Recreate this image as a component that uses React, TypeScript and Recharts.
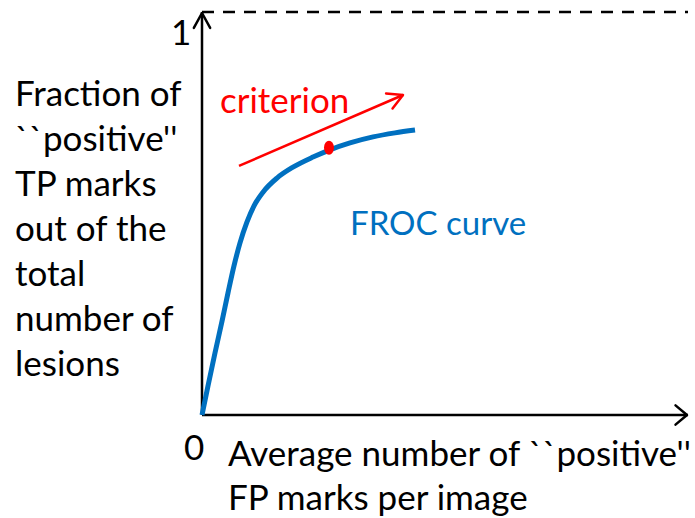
import React from 'react';
import {
  LineChart,
  Line,
  XAxis,
  YAxis,
  ReferenceLine,
  ReferenceDot,
} from 'recharts';

// FROC curve (x: FP marks per image, arbitrary units; y: fraction)
const curveX = [0, 0.123, 0.267, 0.412, 0.535, 0.658, 0.782, 0.926, 1.07, 1.255, 1.543, 1.872, 2.284, 2.634, 3.045, 3.519, 3.971, 4.383];
const curveY = [0, 0.072, 0.154, 0.233, 0.303, 0.37, 0.427, 0.479, 0.519, 0.553, 0.588, 0.615, 0.64, 0.658, 0.675, 0.69, 0.7, 0.707];

// operating point on the curve
const pointX = 2.613;
const pointY = 0.663;

// red "criterion" arrow, tail then head
const arrowX = [0.761, 4.136];
const arrowY = [0.618, 0.794];

const yTitle = ['Fraction of', "``positive''", 'TP marks', 'out of the', 'total', 'number of', 'lesions'];
const xTitle = ["Average number of ``positive''", 'FP marks per image'];

const curveData = curveX.map((x, i) => ({ x, y: curveY[i] }));
const arrowData = arrowX.map((x, i) => ({ x, y: arrowY[i] }));

const BLUE = '#0070C0';
const RED = '#FF0000';
const FONT = 'Lato, "Open Sans", sans-serif';

// chevron drawn at (cx, cy) pointing along angle (radians, svg coords)
const chevron = (cx: number, cy: number, angle: number, len: number, spread: number, color: string, width: number) => {
  const a1 = angle + Math.PI - spread;
  const a2 = angle + Math.PI + spread;
  const d = `M${cx + len * Math.cos(a1)},${cy + len * Math.sin(a1)} L${cx},${cy} L${cx + len * Math.cos(a2)},${cy + len * Math.sin(a2)}`;
  return <path d={d} fill="none" stroke={color} strokeWidth={width} strokeLinecap="round" strokeLinejoin="round" />;
};

const ArrowDot = (props: any) => {
  const { cx, cy, index, points } = props;
  if (index !== 1) return <g key={`d${index}`} />;
  let angle = Math.atan2(-71, 164);
  if (points && points.length > 1) {
    angle = Math.atan2(points[1].y - points[0].y, points[1].x - points[0].x);
  }
  return <g key={`d${index}`}>{chevron(cx, cy, angle, 17, 0.5, RED, 2.5)}</g>;
};

const textStyle: React.CSSProperties = {
  position: 'absolute',
  fontFamily: FONT,
  fontSize: 35,
  lineHeight: '45px',
  color: '#000',
  whiteSpace: 'nowrap',
};

export default function App() {
  return (
    <div style={{ position: 'absolute', left: 0, top: 0, width: 695, height: 518, background: '#fff' }}>
      <LineChart
        width={695}
        height={518}
        margin={{ top: 12, right: 7, bottom: 103, left: 202 }}
      >
        <XAxis type="number" dataKey="x" domain={[0, 10]} hide />
        <YAxis type="number" dataKey="y" domain={[0, 1]} hide />
        <ReferenceLine y={1} stroke="#000" strokeWidth={2.5} strokeDasharray="12 9" />
        <ReferenceLine x={0} stroke="#000" strokeWidth={2.5} />
        <ReferenceLine y={0} stroke="#000" strokeWidth={2.5} />
        <ReferenceDot
          x={0}
          y={1}
          shape={(p: any) => chevron(p.cx, p.cy + 1, -Math.PI / 2, 17, 0.5, '#000', 2.5)}
        />
        <ReferenceDot
          x={10}
          y={0}
          shape={(p: any) => chevron(p.cx - 1, p.cy, 0, 15, 0.7, '#000', 2.5)}
        />
        <Line
          data={curveData}
          dataKey="y"
          type="monotone"
          stroke={BLUE}
          strokeWidth={5}
          dot={false}
          isAnimationActive={false}
        />
        <Line
          data={arrowData}
          dataKey="y"
          type="linear"
          stroke={RED}
          strokeWidth={2.5}
          dot={ArrowDot}
          isAnimationActive={false}
        />
        <ReferenceDot
          x={pointX}
          y={pointY}
          shape={(p: any) => <ellipse cx={p.cx} cy={p.cy} rx={5} ry={7} fill={RED} />}
        />
      </LineChart>

      <div style={{ ...textStyle, left: 15, top: 70 }}>
        {yTitle.map((t) => (
          <div key={t}>{t}</div>
        ))}
      </div>
      <div style={{ ...textStyle, left: 228, top: 430, lineHeight: '44px' }}>
        {xTitle.map((t) => (
          <div key={t}>{t}</div>
        ))}
      </div>
      <div style={{ ...textStyle, left: 171, top: 9 }}>1</div>
      <div style={{ ...textStyle, left: 184, top: 424 }}>0</div>
      <div style={{ ...textStyle, left: 220, top: 77, color: RED }}>criterion</div>
      <div style={{ ...textStyle, left: 350, top: 200, fontSize: 33, color: BLUE }}>FROC curve</div>
    </div>
  );
}
